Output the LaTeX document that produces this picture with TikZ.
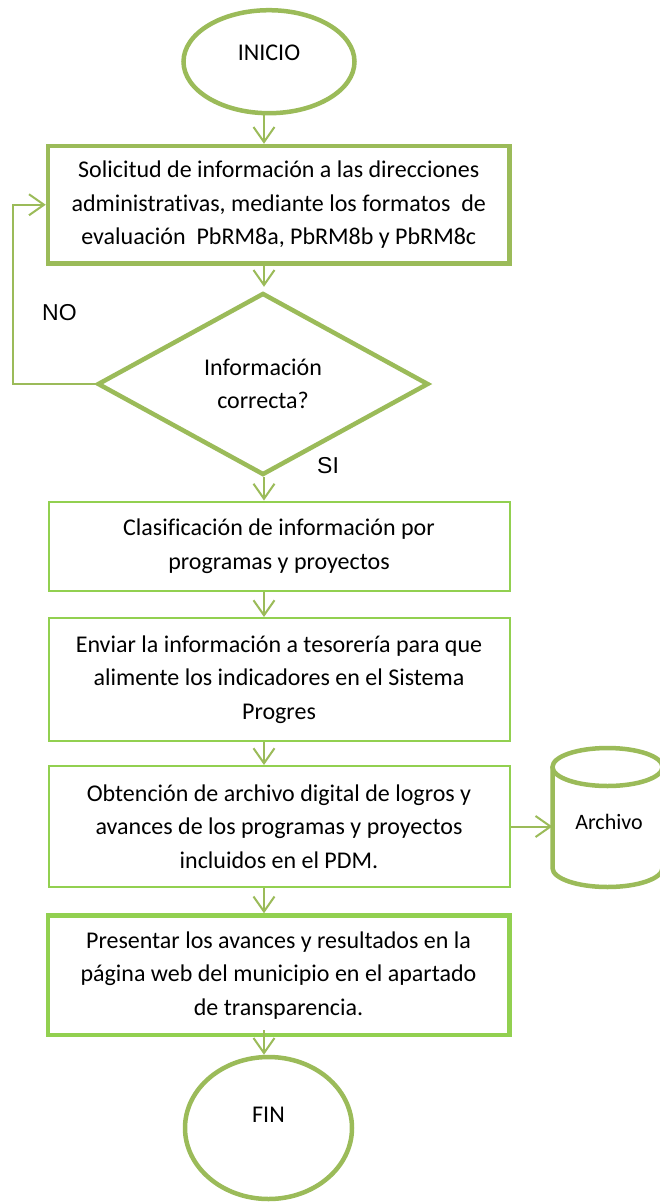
\documentclass[tikz,border=0pt]{standalone}
\usepackage{fontspec}
\setmainfont{Carlito}[Ligatures={NoCommon}]
\newfontfamily\arialf{Liberation Sans}
\usetikzlibrary{arrows.meta,shapes.geometric}
\definecolor{olive}{HTML}{9BBB59}
\definecolor{lgreen}{HTML}{92D050}
\begin{document}
\begin{tikzpicture}[x=1pt,y=-1pt,
  conn/.style={draw=olive,line width=2pt,-{Straight Barb[length=15pt,width=21pt,line width=2pt]}},
  txt/.style={font=\fontsize{24}{33.5}\selectfont,text=black},
  boxtxt/.style={txt,align=center},
  thinbox/.style={rectangle,draw=lgreen,line width=2pt,minimum width=461pt,inner sep=0pt,boxtxt},
  thickbox/.style={rectangle,line width=4.5pt,minimum width=461.5pt,inner sep=0pt,boxtxt},
  term/.style={ellipse,draw=olive,line width=4.5pt,inner sep=0pt},
  lbl/.style={font=\arialf\fontsize{23}{23}\selectfont,inner sep=0pt,text=black},
  cyl/.style={draw=olive,line width=4.5pt}
]
\useasboundingbox (0,0) rectangle (660,1203);
\fill[white] (0,0) rectangle (660,1203);

% terminals
\node[term, minimum width=171pt, minimum height=103pt] (inicio) at (269,61.7) {};
\node[txt] (inicioT) at (269,52.5) {INICIO};

% process boxes
\node[thickbox, draw=olive, minimum height=117.5pt] (b1) at (278.75,204.75)
  {Solicitud de información a las direcciones\\ administrativas, mediante los formatos~~de\\ evaluación~~PbRM8a, PbRM8b y PbRM8c};

\node[diamond, draw=olive, line width=4.5pt, minimum width=331pt, minimum height=182pt,
  inner sep=0pt, aspect=1.82, boxtxt] (dec) at (263,384) {Información\\ correcta?};

\node[thinbox, minimum height=89pt] (b2) at (279,546)
  {Clasificación de información por\\ programas y proyectos};
\node[thinbox, minimum height=123pt] (b3) at (279,679.5)
  {Enviar la información a tesorería para que\\ alimente los indicadores en el Sistema\\ Progres};
\node[thinbox, minimum height=121pt] (b4) at (279,826.5)
  {Obtención de archivo digital de logros y\\ avances de los programas y proyectos\\ incluidos en el PDM.};
\node[thickbox, draw=lgreen, minimum height=119.5pt] (b5) at (278.5,975.25)
  {Presentar los avances y resultados en la\\ página web del municipio en el apartado\\ de transparencia.};

\node[term, minimum width=167pt, minimum height=142pt] (fin) at (268.5,1128) {};
\node[txt] (finT) at (268.5,1115) {FIN};

% storage cylinder
\draw[cyl] (607.5,767) ellipse [x radius=55pt, y radius=19pt];
\draw[cyl] (552.5,767) -- (552.5,868) arc[start angle=180, end angle=360, x radius=55pt, y radius=19pt] -- (662.5,767);
\node[minimum width=110pt, minimum height=139pt, inner sep=0pt] (arch) at (607.5,817.5) {};
\node[txt, font=\fontsize{22}{22}\selectfont] (archT) at (609,822) {Archivo};

% labels
\node[lbl, anchor=base west] (no) at (42,320) {NO};
\node[lbl, anchor=base west] (si) at (317,473) {SI};

% connectors
\coordinate (sp) at (264,0);
\coordinate (lx) at (13,0);
\draw[conn] (inicio.south -| sp) -- (b1.north -| sp);
\draw[conn] (b1.south -| sp) -- ([yshift=4pt]dec.north -| sp);
\draw[conn] (dec.south -| sp) -- (b2.north -| sp);
\draw[conn] (b2.south -| sp) -- (b3.north -| sp);
\draw[conn] (b3.south -| sp) -- (b4.north -| sp);
\draw[conn] (b4.south -| sp) -- (b5.north -| sp);
\draw[conn] ([yshift=7pt]b5.south -| sp) -- (fin.north -| sp);
\draw[conn] (b4.east) -- (arch.west |- b4.east);
\draw[conn] (dec.west) -- (dec.west -| lx) |- (b1.west);
\end{tikzpicture}
\end{document}
